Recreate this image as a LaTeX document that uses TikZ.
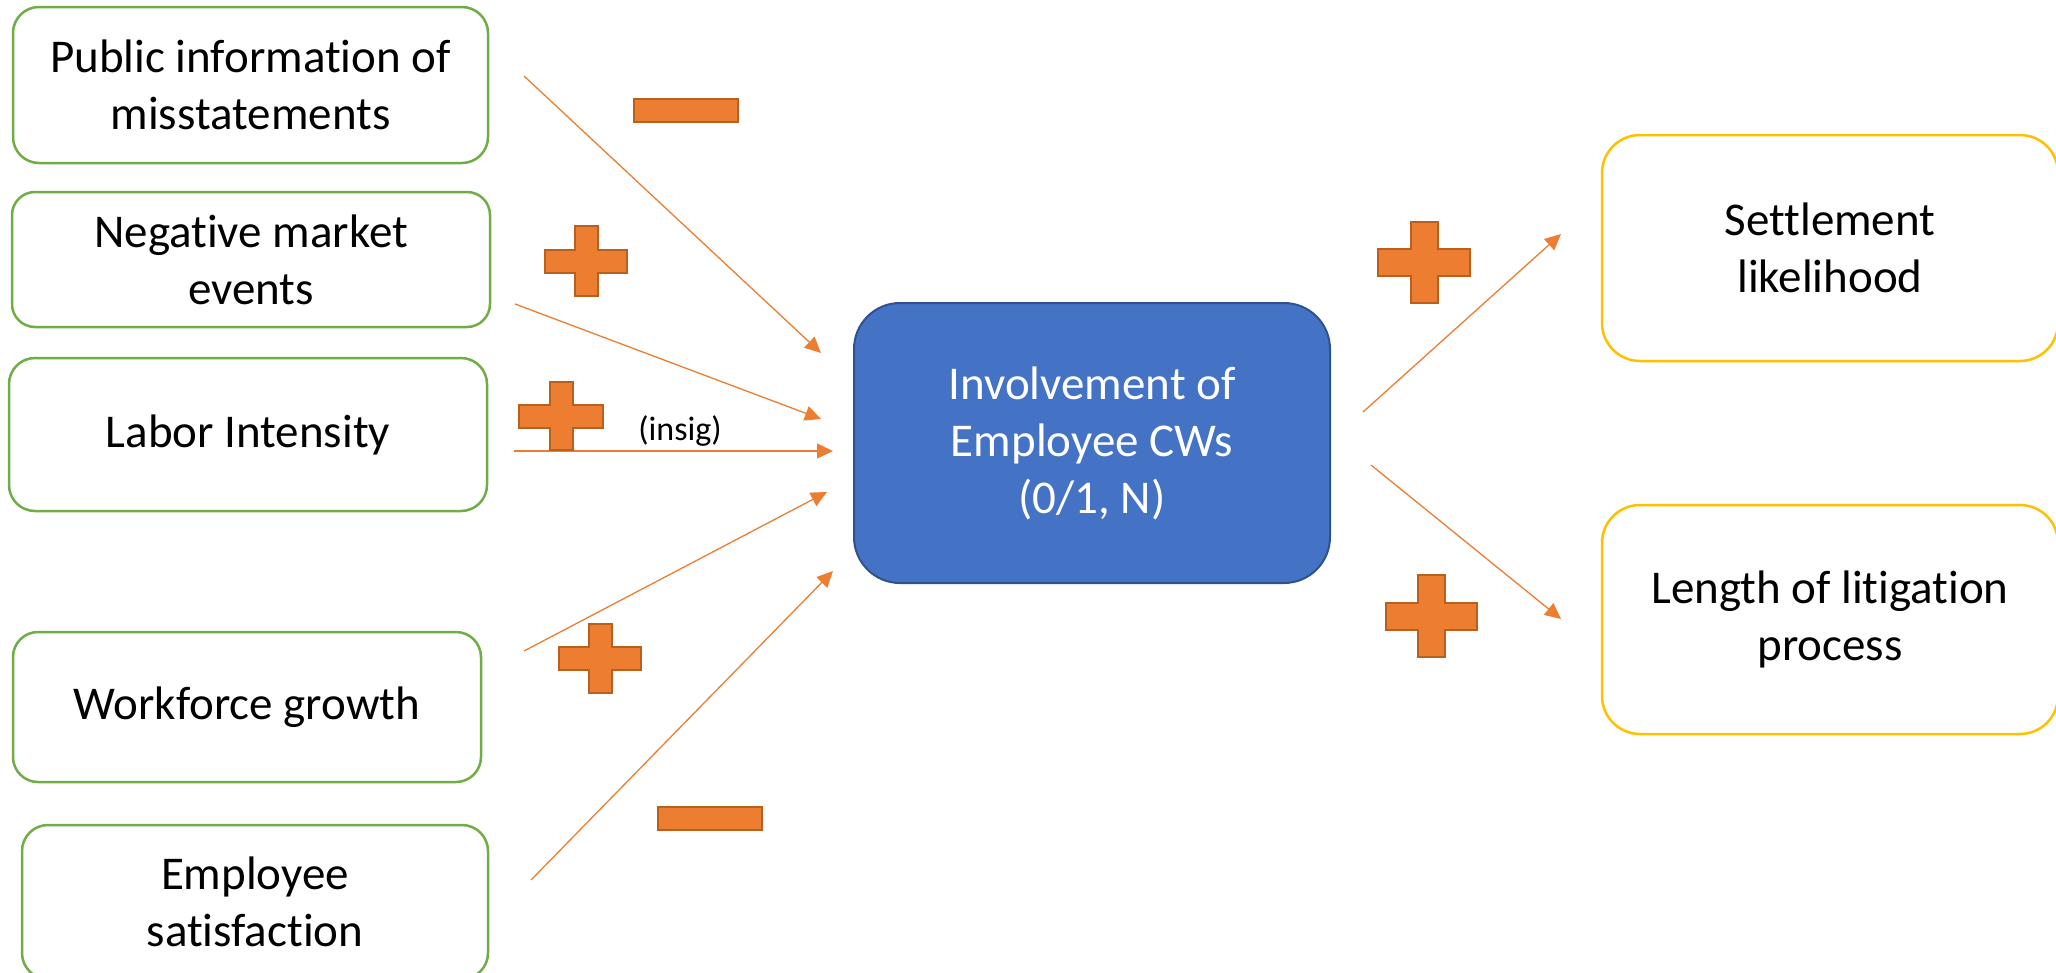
\documentclass[tikz,border=0pt]{standalone}
\usepackage{fontspec}
\setmainfont{Carlito}[Ligatures=NoCommon]
\usetikzlibrary{arrows.meta}

\definecolor{causegreen}{HTML}{70AD47}
\definecolor{effectgold}{HTML}{FFC000}
\definecolor{coreblue}{HTML}{4472C4}
\definecolor{coreedge}{HTML}{2F528F}
\definecolor{accentorange}{HTML}{ED7D31}
\definecolor{accentedge}{HTML}{B9601F}

% plus sign: centre x, centre y, half width, half height, half arm thickness
\newcommand\signplus[5]{%
  \draw[signmark] (#1-#5,#2-#4) -- (#1+#5,#2-#4) -- (#1+#5,#2-#5) -- (#1+#3,#2-#5)
    -- (#1+#3,#2+#5) -- (#1+#5,#2+#5) -- (#1+#5,#2+#4) -- (#1-#5,#2+#4)
    -- (#1-#5,#2+#5) -- (#1-#3,#2+#5) -- (#1-#3,#2-#5) -- (#1-#5,#2-#5) -- cycle;}

\begin{document}
\begin{tikzpicture}[x=1pt,y=-1pt,
  basebox/.style={fill=white, align=center, inner sep=0pt,
    font=\fontsize{47}{57}\selectfont},
  causebox/.style={basebox, draw=causegreen, line width=2.5pt},
  effectbox/.style={basebox, draw=effectgold, line width=2.5pt, rounded corners=38pt,
    minimum width=456pt},
  corebox/.style={draw=coreedge, line width=2pt, fill=coreblue, text=white,
    align=center, inner sep=0pt, font=\fontsize{47}{57}\selectfont,
    rounded corners=46pt, minimum width=476pt, minimum height=280pt},
  link/.style={draw=accentorange, line width=1.3pt,
    -{Triangle[length=16pt,width=15pt]}},
  signmark/.style={fill=accentorange, draw=accentedge, line width=2pt},
]
\path[use as bounding box, clip] (0,0) rectangle (2056,972);

% factors on the left
\node[causebox, rounded corners=26pt, minimum width=475pt, minimum height=156pt]
  (pub) at (250.5,85) {Public information of\\misstatements};
\node[causebox, rounded corners=23pt, minimum width=478pt, minimum height=135pt]
  (neg) at (251,259.5) {Negative market\\events};
\node[causebox, rounded corners=26pt, minimum width=478pt, minimum height=153pt]
  (lab) at (248,434.5) {Labor Intensity};
\node[causebox, rounded corners=25pt, minimum width=468pt, minimum height=150pt]
  (wf) at (247,707) {Workforce growth};
\node[causebox, rounded corners=26pt, minimum width=466pt, minimum height=154pt]
  (emp) at (255,902) {Employee\\satisfaction};

% central outcome
\node[corebox] (core) at (1092,443) {Involvement of\\Employee CWs\\(0/1, N)};

% consequences on the right
\node[effectbox, minimum height=226pt] (settle) at (1830,248) {Settlement\\likelihood};
\node[effectbox, minimum height=229pt] (length) at (1830,619.5) {Length of litigation\\process};

% connector end points
\coordinate (pubS) at (524,76);   \coordinate (pubT) at (821,353);
\coordinate (negS) at (515,304);  \coordinate (negT) at (821,419);
\coordinate (labS) at (514,451);  \coordinate (labT) at (833,451);
\coordinate (wfS)  at (524,651);  \coordinate (wfT)  at (827,492);
\coordinate (empS) at (531,880);  \coordinate (empT) at (833,571);
\coordinate (setS) at (1363,412); \coordinate (setT) at (1561,234);
\coordinate (lenS) at (1371,465); \coordinate (lenT) at (1561,619);

\draw[link] (pubS) -- (pubT);
\draw[link] (negS) -- (negT);
\draw[link] (labS) -- (labT);
\draw[link] (wfS) -- (wfT);
\draw[link] (empS) -- (empT);
\draw[link] (setS) -- (setT);
\draw[link] (lenS) -- (lenT);

% effect signs
\draw[signmark] (634,99) rectangle (738,122);
\signplus{586}{261}{41}{35}{11.5}
\signplus{561}{416}{42}{34}{11.5}
\signplus{600}{658}{41}{34.5}{11.5}
\draw[signmark] (658,807) rectangle (762,830);
\signplus{1424}{262}{46}{40.5}{13.5}
\signplus{1431}{616}{45.5}{41}{13.5}

\node[font=\fontsize{34}{40}\selectfont] (insig) at (680,431) {(insig)};
\end{tikzpicture}
\end{document}
